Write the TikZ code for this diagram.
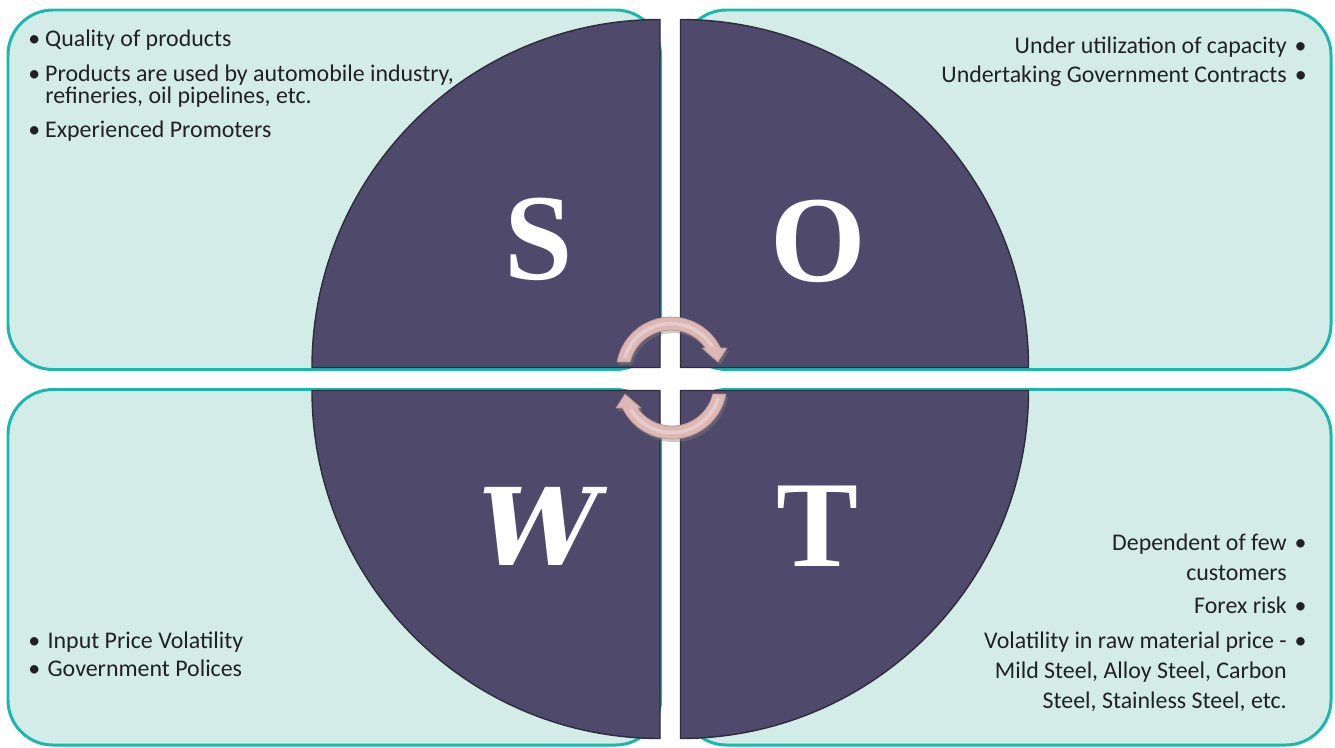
\documentclass[tikz,border=0pt]{standalone}
\usepackage{fontspec}
\setmainfont{Carlito}
\newfontfamily\letterfont{Liberation Serif}
\newfontfamily\wfont{DejaVu Serif}
\usetikzlibrary{shadows}
\definecolor{boxfill}{HTML}{D3ECE8}
\definecolor{boxline}{HTML}{19B8AF}
\definecolor{piefill}{HTML}{4F4A6B}
\definecolor{pieline}{HTML}{2E2C3A}
\definecolor{arrowfill}{HTML}{DCB7B5}
\definecolor{arrowline}{HTML}{B8928F}
\definecolor{txt}{HTML}{222022}
\newcommand{\bodyfont}{\fontsize{13.6}{16}\selectfont}
\newcommand{\lbul}[1]{\makebox[#1][l]{\textbullet}}
\newcommand{\rbul}{\makebox[11.3pt][r]{\textbullet}}

\begin{document}
\begin{tikzpicture}[x=0.02cm, y=-0.02cm, line join=round,
    quadbox/.style={draw=boxline, fill=boxfill, line width=1.7pt, rounded corners=0.9cm},
    quarter/.style={draw=pieline, fill=piefill, line width=0.8pt},
    bigletter/.style={text=white, inner sep=0, font=\letterfont\bfseries\fontsize{70}{70}\selectfont},
    litem/.style={anchor=base west, inner sep=0, text=txt, font=\bodyfont},
    ritem/.style={anchor=base east, inner sep=0, text=txt, font=\bodyfont},
    cycarrow/.style={fill=arrowfill, draw=arrowline, line width=0.4pt,
      drop shadow={shadow xshift=1.2pt, shadow yshift=-1.8pt, opacity=0.4}}]
    \useasboundingbox (0,0) rectangle (1335,747);
    \coordinate (ctl) at (660,367.5);
    \coordinate (ctr) at (680.5,367.5);
    \coordinate (cbl) at (660,390.5);
    \coordinate (cbr) at (680.5,390.5);
    % рамки
    \draw[quadbox] (8,10) rectangle (660.5,369.5);
    \draw[quadbox] (681.5,10) rectangle (1331,369.5);
    \draw[quadbox] (8,389.5) rectangle (660.5,745);
    \draw[quadbox] (681.5,389.5) rectangle (1331,745);
    % чверті круга
    \draw[quarter] (ctl) -- ++(-348,0) arc[start angle=180, end angle=270, radius=348] -- cycle;
    \draw[quarter] (ctr) -- ++(0,-348) arc[start angle=270, end angle=360, radius=348] -- cycle;
    \draw[quarter] (cbl) -- ++(-348,0) arc[start angle=180, end angle=90, radius=348] -- cycle;
    \draw[quarter] (cbr) -- ++(348,0) arc[start angle=0, end angle=90, radius=348] -- cycle;
    \node[bigletter] (S) at (539,239) {S};
    \node[bigletter] (O) at (818,241) {O};
    \node[bigletter, font=\wfont\bfseries\itshape\fontsize{61}{61}\selectfont] (W) at (539,526) {W};
    \node[bigletter] (T) at (818,526) {T};
    % стрілки по колу
    \filldraw[cycarrow] (617,362) arc[start angle=190.5, end angle=334.1, radius=55]
      -- (727,348) -- (718,362) -- (702,348) -- (705.5,348)
      arc[start angle=325.2, end angle=193.8, radius=42] -- cycle;
    \filldraw[cycarrow, rotate around={180:(671.5,378)}] (617,362) arc[start angle=190.5, end angle=334.1, radius=55]
      -- (727,348) -- (718,362) -- (702,348) -- (705.5,348)
      arc[start angle=325.2, end angle=193.8, radius=42] -- cycle;
    \draw[white, opacity=0.3, line width=2pt] (671,372) ++(197:48.5) arc[start angle=197, end angle=328, radius=48.5];
    \draw[white, opacity=0.3, line width=2pt, rotate around={180:(671.5,378)}] (671,372) ++(197:48.5) arc[start angle=197, end angle=328, radius=48.5];
    % S
    \node[litem] (str1) at (28,46) {\lbul{9.6pt}Quality of products};
    \node[litem] (str2) at (28,81) {\lbul{9.6pt}Products are used by automobile industry,};
    \node[litem] (str2b) at (45,103) {refineries, oil pipelines, etc.};
    \node[litem] (str3) at (28,137) {\lbul{9.6pt}Experienced Promoters};
    % O
    \node[ritem] (opp1) at (1307,53) {Under utilization of capacity\rbul};
    \node[ritem] (opp2) at (1307,82) {Undertaking Government Contracts\rbul};
    % W
    \node[litem] (wk1) at (28,648) {\lbul{11pt}Input Price Volatility};
    \node[litem] (wk2) at (28,676) {\lbul{11pt}Government Polices};
    % T
    \node[ritem] (thr1) at (1307,550) {Dependent of few\rbul};
    \node[ritem] (thr1b) at (1287,580) {customers};
    \node[ritem] (thr2) at (1307,613) {Forex risk\rbul};
    \node[ritem] (thr3) at (1307,648) {Volatility in raw material price -\rbul};
    \node[ritem] (thr3b) at (1287,678) {Mild Steel, Alloy Steel, Carbon};
    \node[ritem] (thr3c) at (1287,708) {Steel, Stainless Steel, etc.};
\end{tikzpicture}
\end{document}
